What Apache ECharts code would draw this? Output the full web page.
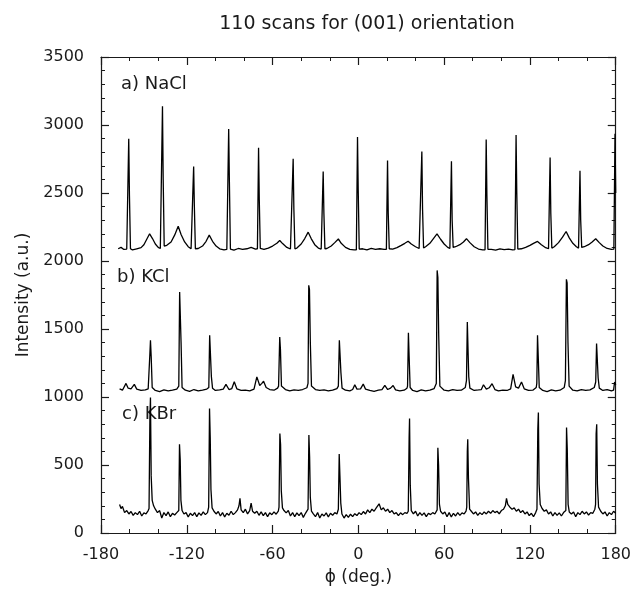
<!DOCTYPE html>
<html>
<head>
<meta charset="utf-8">
<title>110 scans for (001) orientation</title>
<script src="https://cdn.jsdelivr.net/npm/echarts@6/dist/echarts.min.js"></script>
<style>
  html, body { margin: 0; padding: 0; background: #fff; }
  #chart { width: 634px; height: 592px; }
</style>
</head>
<body>
<div id="chart"></div>
<script>
// phi (deg), intensity (a.u.)
var naclScan = [
  [-168,2090],[-166,2100],[-164,2085],[-162,2088],
  [-161.4,2088],[-160.6,2898],[-160.1,2480],[-159.4,2090],
  [-158,2082],[-155,2090],[-152,2098],[-150,2120],[-148,2160],[-146,2200],[-144,2165],[-142,2125],[-140,2100],[-138.5,2092],
  [-137.8,2095],[-137,3137],[-136.5,2600],[-135.8,2110],
  [-134,2115],[-131,2140],[-128.5,2190],[-126,2255],[-124,2195],[-121.5,2140],[-119,2105],[-117,2090],
  [-116,2088],[-115.2,2694],[-114.7,2400],[-114,2090],
  [-112,2092],[-109,2110],[-106.5,2145],[-104.3,2190],[-102,2145],[-99.5,2110],[-97,2090],[-94,2082],[-92,2085],
  [-91.5,2085],[-90.7,2971],[-90.2,2580],[-89.5,2088],
  [-87,2080],[-84,2092],[-81,2085],[-78,2090],[-75,2100],[-72,2088],
  [-70.6,2090],[-69.8,2832],[-69.3,2450],[-68.6,2092],
  [-66,2085],[-63,2095],[-60,2110],[-57,2130],[-55,2151],[-53,2128],[-50,2100],[-47.5,2088],
  [-46.4,2085],[-45.6,2751],[-45.1,2380],[-44.4,2090],
  [-43,2095],[-40,2125],[-37.5,2165],[-35.1,2212],[-33,2165],[-30.5,2120],[-28,2095],[-26,2088],
  [-25.4,2088],[-24.6,2658],[-24.1,2350],[-23.4,2090],
  [-22,2092],[-19,2110],[-16.5,2135],[-14,2162],[-12,2130],[-9,2100],[-6,2085],[-3,2082],
  [-1.4,2082],[-0.6,2912],[-0.1,2520],[0.6,2088],
  [3,2090],[6,2082],[9,2092],[12,2085],[15,2090],[18,2086],
  [19.6,2086],[20.4,2739],[20.9,2350],[21.6,2090],
  [24,2088],[27,2098],[30,2115],[32.5,2130],[34.8,2145],[37,2125],[40,2105],[42.5,2092],
  [43.6,2090],[44.4,2805],[44.9,2380],[45.6,2095],
  [47,2105],[50,2130],[52.5,2165],[55,2200],[57.5,2160],[60,2125],[62.5,2100],[64,2092],
  [64.3,2092],[65.1,2733],[65.6,2300],[66.3,2100],
  [68,2105],[71,2120],[73.5,2140],[75.6,2164],[78,2135],[81,2105],[84,2088],[87,2082],
  [88.6,2082],[89.4,2893],[89.9,2480],[90.6,2086],
  [93,2085],[96,2080],[99,2090],[102,2083],[105,2088],[108,2082],
  [109.5,2084],[110.3,2927],[110.8,2500],[111.5,2088],
  [114,2090],[117,2100],[120,2115],[122.5,2130],[125.3,2144],[128,2120],[131,2098],[133,2090],
  [133.3,2088],[134.1,2761],[134.6,2350],[135.3,2095],
  [137,2105],[140,2135],[142.8,2175],[145.3,2217],[147.5,2170],[150,2130],[152.5,2105],[154,2095],
  [154.2,2093],[155,2663],[155.5,2300],[156.2,2100],
  [158,2105],[161,2120],[163.5,2140],[166,2164],[168.5,2135],[171,2110],[174,2092],[177,2085],[178.7,2088],
  [179.5,2935],[180,2500]
];

var kclScan = [
  [-167,1060],[-165,1050],[-164,1055],[-162.5,1100],[-161,1065],[-159,1060],[-156.7,1093],[-155,1058],[-152,1048],[-149,1052],[-147,1060],
  [-146.5,1065],[-145.8,1320],[-145.4,1417],[-144.9,1300],[-144.2,1070],
  [-142,1048],[-139,1040],[-136,1052],[-133,1045],[-130,1050],[-127,1058],
  [-125.6,1080],[-125,1772],[-124.5,1760],[-124,1400],[-123.3,1070],
  [-121,1050],[-118,1042],[-115,1055],[-112,1045],[-109,1050],[-106,1058],
  [-104.6,1070],[-104,1454],[-103.4,1450],[-102.8,1150],[-102,1065],
  [-100,1048],[-97,1052],[-94.5,1058],[-92.6,1093],[-90.5,1055],[-88.5,1062],[-86.8,1112],[-85,1060],[-82,1048],[-79,1050],
  [-76,1045],[-73,1058],[-71,1148],[-69,1085],[-67.5,1100],[-66.3,1116],[-64.5,1070],[-62,1055],[-59,1050],[-56.5,1065],
  [-55.8,1080],[-55,1441],[-54.5,1350],[-53.8,1080],
  [-51,1055],[-48,1045],[-45,1052],[-42,1048],[-39,1055],[-36,1068],
  [-35.2,1100],[-34.7,1821],[-34.2,1790],[-33.6,1400],[-32.8,1080],
  [-30,1055],[-27,1048],[-24,1052],[-21,1045],[-18,1050],[-15,1062],
  [-14,1080],[-13.3,1417],[-12.8,1410],[-12.2,1180],[-11.4,1065],
  [-9,1050],[-6,1045],[-4,1055],[-2.5,1090],[-1,1058],[1.5,1060],[3.4,1095],[5,1058],[8,1048],[11,1042],[14,1050],
  [16.5,1055],[18.5,1085],[20.5,1055],[22.5,1065],[24.3,1085],[26,1052],[29,1045],[32,1050],[34,1065],
  [34.4,1080],[35,1473],[35.5,1300],[36.2,1070],
  [38,1048],[41,1040],[44,1052],[47,1045],[50,1050],[53,1062],
  [54.5,1100],[55.1,1931],[55.6,1880],[56.2,1450],[57,1080],
  [60,1050],[63,1045],[66,1055],[69,1048],[72,1050],[74.8,1070],
  [75.6,1120],[76.2,1551],[76.7,1540],[77.2,1150],[78,1065],
  [81,1048],[84,1052],[86,1055],[87.5,1090],[89.5,1058],[91.5,1068],[93.5,1098],[95.5,1055],[98,1045],[101,1050],
  [104,1048],[106.5,1060],[108.2,1167],[110,1075],[112,1065],[114.1,1110],[116,1060],[119,1048],[122,1050],[124.4,1070],
  [124.8,1100],[125.3,1454],[125.8,1300],[126.5,1070],
  [129,1048],[132,1040],[135,1052],[138,1045],[141,1050],[144,1070],
  [144.8,1120],[145.5,1865],[146,1840],[146.6,1400],[147.4,1080],
  [150,1050],[153,1045],[156,1055],[159,1048],[162,1052],[165,1070],
  [166,1110],[166.6,1393],[167.1,1390],[167.7,1140],[168.5,1065],
  [171,1048],[174,1055],[177,1045],[178.5,1050],[179.2,1110],[180,1090]
];

var kbrScan = [
  [-167,210],[-166,180],[-165,195],[-163.5,150],[-162,165],[-160.5,140],[-159,158],[-157.5,130],[-156,150],[-154.5,135],
  [-153,160],[-151.5,125],[-150,148],[-148.5,140],[-147,165],
  [-146.4,180],[-145.8,850],[-145.4,996],[-144.9,420],[-144.2,240],[-143.2,200],
  [-142,175],[-140.5,150],[-139,165],[-137.5,110],[-136,150],[-134.5,128],[-133,155],[-131.5,120],[-130,145],[-128.5,132],[-127,150],[-126.2,145],
  [-125.6,165],[-125.1,653],[-124.6,540],[-124.1,240],[-123.3,165],
  [-122,140],[-120.5,150],[-119,118],[-117.5,145],[-116,128],[-114.5,150],[-113,120],[-111.5,148],[-110,130],[-108.5,155],[-107,135],[-105.5,150],
  [-104.7,190],[-104.1,915],[-103.6,700],[-103.1,320],[-102.3,185],
  [-101,160],[-99.5,140],[-98,158],[-96.5,125],[-95,150],[-93.5,118],[-92,145],[-90.5,130],[-89,160],[-87.5,135],[-86,150],
  [-84.5,170],[-83.5,200],[-82.8,255],[-82,170],[-80.5,150],[-79,175],[-77.5,140],[-76,165],[-75,220],[-74,160],[-72.5,145],
  [-71,160],[-69.5,130],[-68,155],[-66.5,128],[-65,150],[-63.5,120],[-62,148],[-60.5,135],[-59,155],[-57.5,138],[-56,160],
  [-55.5,190],[-54.9,732],[-54.4,650],[-53.9,310],[-53.1,185],
  [-52,165],[-50.5,148],[-49,165],[-47.5,125],[-46,150],[-44.5,120],[-43,148],[-41.5,128],[-40,150],[-38.5,115],[-37,145],[-35.8,150],
  [-35.2,175],[-34.6,720],[-34.1,560],[-33.6,260],[-32.8,160],
  [-31.5,140],[-30,120],[-28.5,150],[-27,110],[-25.5,140],[-24,125],[-22.5,148],[-21,118],[-19.5,145],[-18,130],[-16.5,150],[-15,140],
  [-14,175],[-13.4,580],[-12.9,420],[-12.3,220],[-11.5,140],
  [-10,110],[-8.5,135],[-7,115],[-5.5,138],[-4,120],[-2.5,142],[-1,128],[0.5,150],[2,135],[3.5,158],[5,140],[6.5,170],
  [8,150],[9.5,175],[11,160],[12.5,185],[14.5,215],[16,170],[17.5,185],[19,160],[20.5,175],[22,150],[23.5,165],[25,140],
  [26.5,150],[28,128],[29.5,148],[31,135],[32.5,150],[34,145],
  [34.9,160],[35.5,700],[35.8,842],[36.3,350],[37,165],
  [38.5,140],[40,160],[41.5,125],[43,150],[44.5,130],[46,148],[47.5,120],[49,145],[50.5,135],[52,150],[53.5,140],[54.5,150],
  [55.1,170],[55.6,626],[56.1,500],[56.7,210],[57.5,160],
  [59,140],[60.5,155],[62,120],[63.5,150],[65,118],[66.5,145],[68,125],[69.5,150],[71,130],[72.5,148],[74,140],[75.3,160],
  [75.8,190],[76.2,600],[76.5,690],[77,400],[77.8,175],
  [79,160],[80.5,140],[82,155],[83.5,130],[85,150],[86.5,135],[88,155],[89.5,140],[91,160],[92.5,145],[94,165],[95.5,150],
  [97,160],[98.5,140],[100,165],[101.5,175],[102.8,200],[103.6,255],[104.5,210],[106,190],[107.5,175],[109,185],[110.5,160],
  [112,175],[113.5,150],[115,165],[116.5,140],[118,155],[119.5,128],[121,145],[122.5,120],[124,150],
  [124.9,175],[125.5,760],[125.9,886],[126.4,360],[127.2,210],
  [128.5,180],[130,160],[131.5,170],[133,140],[134.5,155],[136,125],[137.5,150],[139,130],[140.5,148],[142,125],[143.5,150],[144.6,145],
  [145.1,165],[145.6,776],[146.1,620],[146.7,210],[147.5,155],
  [149,140],[150.5,155],[152,120],[153.5,150],[155,135],[156.5,160],[158,140],[159.5,155],[161,132],[162.5,150],[164,145],[165.4,175],
  [165.9,210],[166.3,730],[166.7,800],[167.2,360],[168,190],
  [169.5,160],[171,140],[172.5,155],[174,125],[175.5,150],[177,135],[178.5,160],[180,145]
];

var traceNames = ['a) NaCl', 'b) KCl', 'c) KBr'];
var chartTitle = '110 scans for (001) orientation';
var xName = '\u03d5 (deg.)';
var yName = 'Intensity (a.u.)';

var font = 'DejaVu Sans';
var ink = '#1a1a1a';

var chart = echarts.init(document.getElementById('chart'));

function frameAxis(pos, showLabel) {
  return {
    type: 'value',
    position: pos,
    axisLine: { show: true, onZero: false, lineStyle: { color: ink, width: 1.2 } },
    axisTick: { show: true, inside: true, length: 8, lineStyle: { color: ink, width: 1.2 } },
    minorTick: { show: true, length: 4, lineStyle: { color: ink, width: 1 } },
    splitLine: { show: false },
    axisLabel: {
      show: showLabel, color: ink, fontFamily: font, fontSize: 16,
      formatter: function (v) { return String(v); }
    }
  };
}

var xBottom = frameAxis('bottom', true);
xBottom.min = -180; xBottom.max = 180; xBottom.interval = 60;
xBottom.minorTick.splitNumber = 3;
xBottom.axisLabel.margin = 14;
xBottom.name = xName;
xBottom.nameLocation = 'middle';
xBottom.nameGap = 36;
xBottom.nameTextStyle = { color: ink, fontFamily: font, fontSize: 17 };

var xTop = frameAxis('top', false);
xTop.min = -180; xTop.max = 180; xTop.interval = 60;
xTop.minorTick.splitNumber = 3;

var yLeft = frameAxis('left', true);
yLeft.min = 0; yLeft.max = 3500; yLeft.interval = 500;
yLeft.minorTick.splitNumber = 5;
yLeft.axisLabel.margin = 17;
yLeft.name = yName;
yLeft.nameLocation = 'middle';
yLeft.nameGap = 66;
yLeft.nameTextStyle = { color: ink, fontFamily: font, fontSize: 17 };

var yRight = frameAxis('right', false);
yRight.min = 0; yRight.max = 3500; yRight.interval = 500;
yRight.minorTick.splitNumber = 5;

function scanSeries(name, data) {
  return {
    name: name,
    type: 'line',
    data: data,
    xAxisIndex: 0,
    yAxisIndex: 0,
    showSymbol: false,
    symbol: 'none',
    sampling: null,
    lineStyle: { color: '#000', width: 1.3 },
    clip: true
  };
}

var option = {
  animation: false,
  backgroundColor: '#fff',
  title: {
    text: chartTitle,
    left: 362,
    top: 10,
    textAlign: 'center',
    textStyle: { color: ink, fontFamily: font, fontSize: 19, fontWeight: 'normal' }
  },
  grid: { left: 101, right: 17, top: 57, bottom: 59 },
  xAxis: [xBottom, xTop],
  yAxis: [yLeft, yRight],
  series: [
    scanSeries(traceNames[0], naclScan),
    scanSeries(traceNames[1], kclScan),
    scanSeries(traceNames[2], kbrScan)
  ],
  graphic: [
    { type: 'text', left: 121, top: 75, style: { text: traceNames[0], fill: ink, font: '18px "DejaVu Sans"' } },
    { type: 'text', left: 117, top: 268, style: { text: traceNames[1], fill: ink, font: '18px "DejaVu Sans"' } },
    { type: 'text', left: 122, top: 405, style: { text: traceNames[2], fill: ink, font: '18px "DejaVu Sans"' } }
  ]
};

chart.setOption(option);
</script>
</body>
</html>
